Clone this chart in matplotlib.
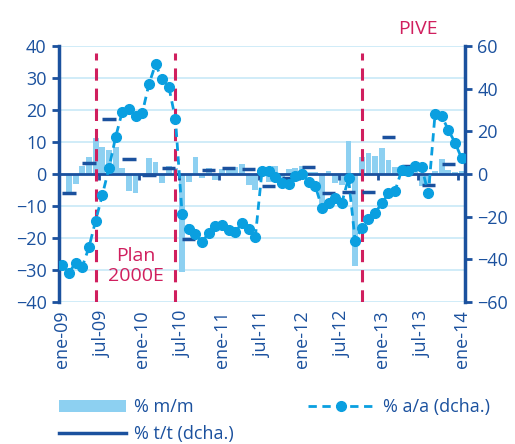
import matplotlib
matplotlib.use('Agg')
import matplotlib.pyplot as plt
import numpy as np
from matplotlib.patches import Patch
from matplotlib.lines import Line2D

plt.rcParams['font.family'] = ['Open Sans', 'DejaVu Sans']

tick_labels = ["ene-09", "jul-09", "ene-10", "jul-10", "ene-11", "jul-11",
               "ene-12", "jul-12", "ene-13", "jul-13", "ene-14"]

# % m/m (left axis), monthly ene-09 .. ene-14
mm = [0.0, -5.5, -3.1, 2.5, 5.2, 11.1, 8.3, 7.5, 8.3, 2.0,
      -5.2, -5.8, -0.5, 4.9, 3.9, -2.7, 2.5, 2.0, -30.5, -2.5,
      5.2, -1.4, 2.0, -2.0, 1.5, 2.0, 2.3, 3.2, -3.5, -5.0,
      1.5, -2.5, 2.5, -1.5, 1.5, 2.0, 2.5, 0.5, 0.5, -10.0,
      1.0, -2.7, -3.4, 10.4, -28.8, 5.4, 6.7, 5.6, 8.2, 4.4,
      2.2, 1.0, 0.8, 0.5, -3.8, -3.1, 1.0, 4.7, 1.3, 0.7, 1.0]

# % a/a (right axis), monthly
aa = [-42.7, -46.3, -41.6, -43.4, -34.4, -21.9, -10.0, 2.7, 17.2, 29.2,
      30.3, 27.2, 28.4, 42.0, 51.4, 44.4, 40.9, 25.6, -18.9, -25.9,
      -28.1, -32.0, -27.5, -24.4, -23.9, -26.2, -27.3, -22.8, -25.9, -29.4,
      1.4, 1.4, -1.3, -4.4, -4.7, -0.9, 0.0, -3.6, -5.5, -15.8,
      -13.4, -11.1, -13.4, -2.0, -31.4, -25.2, -21.1, -18.1, -13.8, -9.1,
      -7.8, 1.9, 1.4, 3.9, 3.1, -9.1, 28.1, 27.2, 20.6, 14.7, 7.3]

# % t/t (right axis), quarterly 1T09 .. 4T13
tt = [-8.7, 5.3, 25.8, 7.0, -0.6, 3.0, -30.5, 1.8, 2.9, 2.4,
      -5.6, -2.0, 3.1, -9.1, -8.3, -8.6, 17.5, 3.8, -5.2, 4.5]

# programme markers (month index)
events = [5, 17, 45]

dark = '#1B519E'
bar_c = '#8DD0F1'
line_c = '#0A9FE0'
red = '#D01F5E'
grid_c = '#CDEBF8'

fig = plt.figure(figsize=(5.15, 4.44), dpi=100)
ax = fig.add_axes([59/515, 1-302/444, 406/515, 256/444])
x = np.arange(len(mm))
ax.bar(x, mm, width=0.88, color=bar_c, zorder=2)
ax.set_xlim(-0.5, len(mm) - 0.5)
ax.set_ylim(-40, 40)
ax.set_yticks(range(-40, 41, 10))
ax.yaxis.grid(True, color=grid_c, lw=1.3)
ax.set_axisbelow(True)
for s in ['top', 'bottom', 'right']:
    ax.spines[s].set_visible(False)
ax.spines['left'].set_color(dark)
ax.spines['left'].set_linewidth(2.5)
ax.tick_params(axis='y', colors=dark, labelcolor=dark, labelsize=13, length=5, width=2, pad=4)
ax.set_xticks(range(0, len(mm), 6))
ax.set_xticklabels(tick_labels, rotation=90, fontsize=13, color=dark)
ax.tick_params(axis='x', length=0, pad=6)
ax.axhline(0, color=dark, lw=2, zorder=4)
for b in np.arange(5.5, len(mm) - 1, 6):
    ax.plot([b, b], [0, -1.9], color=dark, lw=2, zorder=4, solid_capstyle='butt')

ax2 = ax.twinx()
ax2.set_ylim(-60, 60)
ax2.set_yticks(range(-60, 61, 20))
for s in ['top', 'bottom', 'left']:
    ax2.spines[s].set_visible(False)
ax2.spines['right'].set_color(dark)
ax2.spines['right'].set_linewidth(2.5)
ax2.tick_params(axis='y', colors=dark, labelcolor=dark, labelsize=13, length=5, width=2, pad=4)

for e in events:
    ax2.plot([e, e], [-60, 56.5], color=red, lw=2.2, dashes=(4, 2.6), zorder=1)

for q, v in enumerate(tt):
    ax2.plot([3*q, 3*q+2], [v, v], color=dark, lw=2.5, solid_capstyle='butt', zorder=3)

ax2.plot(x, aa, color=line_c, lw=2, dashes=(3, 2), marker='o', ms=7, zorder=5)

ax.text(11.05, -28.7, "Plan\n2000E", color=red, fontsize=14, ha='center', va='center',
        linespacing=1.15, zorder=6)
ax.text(53.4, 45.3, "PIVE", color=red, fontsize=14, ha='center', va='center', clip_on=False)

handles = [Patch(facecolor=bar_c, edgecolor='none'),
           Line2D([], [], color=dark, lw=2.5),
           Line2D([], [], color=line_c, lw=2, dashes=(3, 2), marker='o', ms=7)]
labels = ["% m/m", "% t/t (dcha.)", "% a/a (dcha.)"]
fig.legend(handles, labels, ncol=2, loc='upper left', bbox_to_anchor=(52/515, 1-391/444),
           frameon=False, fontsize=13, handlelength=3.7, handletextpad=0.45,
           columnspacing=4.1, labelspacing=0.5, labelcolor=dark, borderaxespad=0)

fig.savefig('out.png', dpi=100)
